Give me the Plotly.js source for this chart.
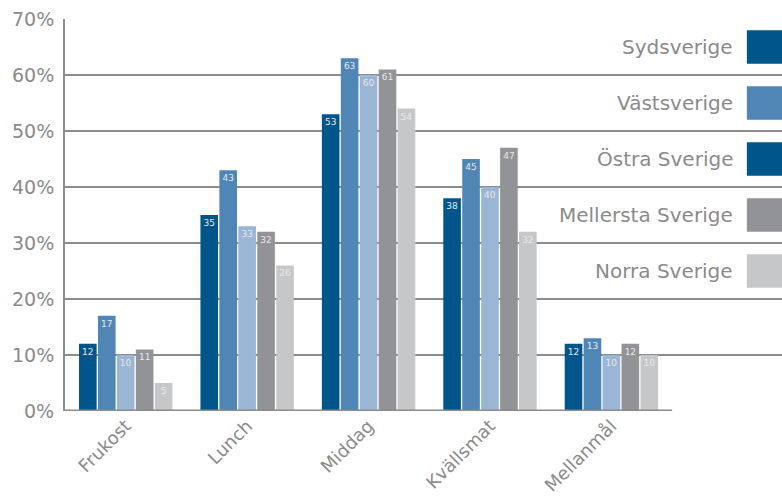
<!DOCTYPE html>
<html>
<head>
<meta charset="utf-8">
<script src="https://cdn.plot.ly/plotly-3.0.1.min.js"></script>
<style>
  html, body { margin: 0; padding: 0; background: #ffffff; }
  #chart { width: 782px; height: 498px; }
</style>
</head>
<body>
<div id="chart"></div>
<script>
// Måltider per region (andel i procent)
const categories = ['Frukost', 'Lunch', 'Middag', 'Kvällsmat', 'Mellanmål'];

const regions = ['Sydsverige', 'Västsverige', 'Östra Sverige', 'Mellersta Sverige', 'Norra Sverige'];

const sydsverige       = [12, 35, 53, 38, 12];
const vastsverige      = [17, 43, 63, 45, 13];
const ostraSverige     = [10, 33, 60, 40, 10];
const mellerstaSverige = [11, 32, 61, 47, 12];
const norraSverige     = [5, 26, 54, 32, 10];

const yTickValues = [0, 10, 20, 30, 40, 50, 60, 70];
const yTickLabels = ['0%', '10%', '20%', '30%', '40%', '50%', '60%', '70%'];

const barColors    = ['#00558b', '#4f86b6', '#9bb5d5', '#929397', '#c6c7c9'];
const legendColors = ['#00558b', '#4f86b6', '#00558b', '#929397', '#c6c7c9'];

const seriesValues = [sydsverige, vastsverige, ostraSverige, mellerstaSverige, norraSverige];

const FONT = '"DejaVu Sans", "Open Sans", sans-serif';
const GREY_TEXT = '#8a8a8b';
const GRID = '#8c8c8c';

const traces = seriesValues.map((vals, i) => ({
  type: 'bar',
  name: regions[i],
  x: categories,
  y: vals,
  marker: { color: barColors[i], line: { width: 0 } },
  text: vals.map(String),
  texttemplate: '%{text}',
  textposition: 'inside',
  insidetextanchor: 'end',
  textangle: 0,
  constraintext: 'none',
  insidetextfont: { family: FONT, size: 9, color: '#e9e9e9' },
  hoverinfo: 'skip',
  showlegend: false
}));

// Hand-built legend: label + swatch, one row between each pair of gridlines
const shapes = [];
const annotations = [];
regions.forEach((name, i) => {
  const yc = 65 - 10 * i;
  shapes.push({
    type: 'rect', xref: 'paper', yref: 'y',
    x0: 0.951, x1: 1.0, y0: yc - 3.0, y1: yc + 3.0,
    fillcolor: legendColors[i], line: { width: 0 }, layer: 'above'
  });
  annotations.push({
    xref: 'paper', yref: 'y', x: 0.934, y: yc,
    xanchor: 'right', yanchor: 'middle',
    text: name, showarrow: false,
    font: { family: FONT, size: 20, color: GREY_TEXT }
  });
});

// Category baseline, thicker under the groups
shapes.push({
  type: 'line', xref: 'x', yref: 'y',
  x0: -0.5, x1: categories.length - 0.5, y0: 0, y1: 0,
  line: { color: GRID, width: 3 }, layer: 'above'
});

const layout = {
  width: 782,
  height: 498,
  margin: { l: 65, r: 0, t: 19, b: 87, pad: 0 },
  paper_bgcolor: '#ffffff',
  plot_bgcolor: '#ffffff',
  barmode: 'group',
  bargap: 0.22,
  bargroupgap: 0.07,
  font: { family: FONT, color: GREY_TEXT },
  xaxis: {
    type: 'category',
    range: [-0.5, 5.405],
    tickangle: -45,
    tickfont: { family: FONT, size: 18, color: GREY_TEXT },
    showgrid: false,
    showline: false,
    ticks: '',
    zeroline: false,
    fixedrange: true
  },
  yaxis: {
    range: [0, 70],
    tickvals: yTickValues,
    ticktext: yTickLabels,
    tickfont: { family: FONT, size: 19, color: GREY_TEXT },
    showgrid: true,
    gridcolor: GRID,
    gridwidth: 1.6,
    zeroline: false,
    showline: true,
    linecolor: GRID,
    linewidth: 2,
    ticks: 'outside',
    ticklen: 5,
    tickcolor: 'rgba(0,0,0,0)',
    fixedrange: true
  },
  shapes: shapes,
  annotations: annotations,
  showlegend: false
};

Plotly.newPlot('chart', traces, layout, { staticPlot: true, displayModeBar: false });
</script>
</body>
</html>
